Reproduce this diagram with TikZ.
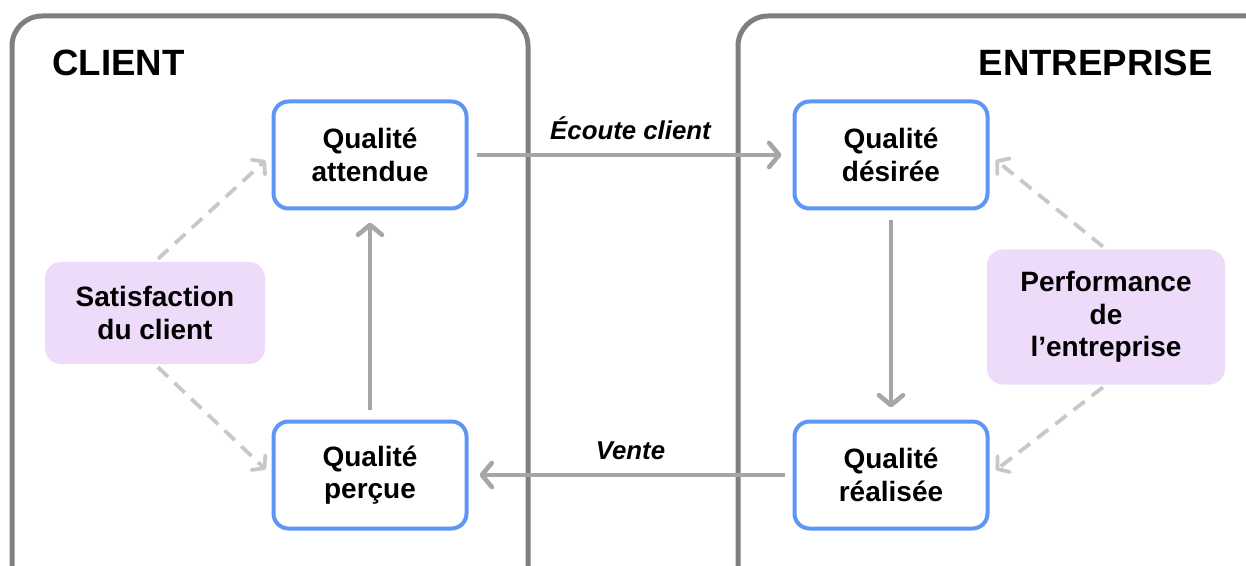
\documentclass[tikz,border=0pt]{standalone}
\usepackage{fontspec}
\setmainfont{Liberation Sans}
\usetikzlibrary{arrows.meta}

\definecolor{framegray}{HTML}{7F7F7F}
\definecolor{arrowgray}{HTML}{A6A6A6}
\definecolor{dashgray}{HTML}{C8C8C8}
\definecolor{qblue}{HTML}{5E96F7}
\definecolor{lilac}{HTML}{EEDBFA}

\begin{document}
\begin{tikzpicture}[x=0.5pt,y=-0.5pt,
    qualbox/.style={draw=qblue,line width=2pt,rounded corners=7.5pt,fill=white,
      minimum width=96.5pt,minimum height=53.5pt,align=center,
      font=\bfseries\fontsize{14}{16.3}\selectfont},
    notebox/.style={fill=lilac,rounded corners=8pt,align=center,
      font=\bfseries\fontsize{14}{16.3}\selectfont},
    arr/.style={draw=arrowgray,line width=2.3pt,
      -{Straight Barb[round,length=5pt,width=12pt]}},
    dasharr/.style={draw=dashgray,line width=1.9pt,dash pattern=on 7pt off 4.5pt,
      -{Straight Barb[round,length=4pt,width=10pt]}}]
  \useasboundingbox (0,0) rectangle (1246,566);
  \clip (0,0) rectangle (1246,566);
  % the two sides
  \draw[framegray,line width=2.5pt,rounded corners=15pt] (12,16) rectangle (528,620);
  \draw[framegray,line width=2.5pt,rounded corners=15pt] (738,16) rectangle (1290,620);
  \node[anchor=base west,inner sep=0pt,font=\bfseries\fontsize{18.3}{20}\selectfont] (client) at (52,76) {CLIENT};
  \node[anchor=base east,inner sep=0pt,font=\bfseries\fontsize{18.3}{20}\selectfont] (entreprise) at (1213,76) {ENTREPRISE};
  % quality boxes
  \node[qualbox] (attendue) at (370,155) {Qualité\\attendue};
  \node[qualbox] (percue) at (370,475) {Qualité\\perçue};
  \node[qualbox] (desiree) at (891,155) {Qualité\\désirée};
  \node[qualbox] (realisee) at (891,475) {Qualité\\réalisée};
  \node[notebox,minimum width=110pt,minimum height=51pt] (satisf) at (155,313) {Satisfaction\\du client};
  \node[notebox,minimum width=119pt,minimum height=67.5pt] (perf) at (1106,317) {Performance\\de\\l’entreprise};
  % flows
  \draw[arr,shorten <=4pt,shorten >=5.5pt] (attendue.east) -- (desiree.west)
    node[midway,above=3pt,font=\bfseries\itshape\fontsize{12.9}{14}\selectfont] {Écoute client};
  \draw[arr,shorten <=4pt,shorten >=5.5pt] (realisee.west) -- (percue.east)
    node[midway,above=3pt,font=\bfseries\itshape\fontsize{12.9}{14}\selectfont] {Vente};
  \draw[arr,shorten <=5pt,shorten >=6pt] (percue.north) -- (attendue.south);
  \draw[arr,shorten <=5pt,shorten >=6pt] (desiree.south) -- (realisee.north);
  \draw[dasharr,shorten <=2pt,shorten >=4pt] (satisf.north) -- (attendue.west);
  \draw[dasharr,shorten <=2pt,shorten >=4pt] (satisf.south) -- (percue.west);
  \draw[dasharr,shorten <=2pt,shorten >=4pt] (perf.north) -- (desiree.east);
  \draw[dasharr,shorten <=2pt,shorten >=4pt] (perf.south) -- (realisee.east);
\end{tikzpicture}
\end{document}
